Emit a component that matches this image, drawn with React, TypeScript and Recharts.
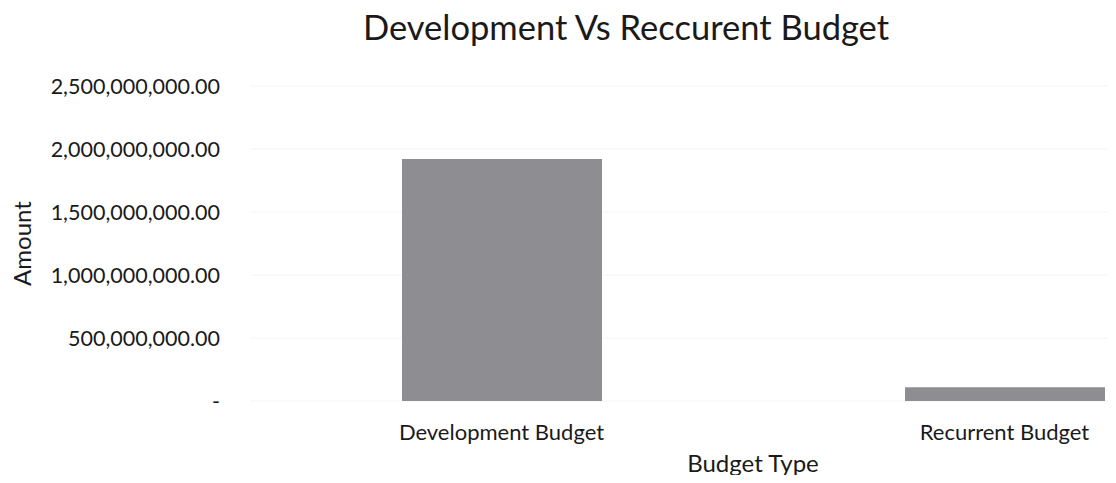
import { Bar, BarChart, CartesianGrid, Label, XAxis, YAxis } from "recharts";

const budgetTypes = ["Development Budget", "Recurrent Budget"];
const amounts = [1920000000, 110000000];
const yTicks = [0, 500000000, 1000000000, 1500000000, 2000000000, 2500000000];

const data = budgetTypes.map((name, i) => ({ name, amount: amounts[i] }));

const font = "Lato, 'Open Sans', sans-serif";

function formatAmount(v: number) {
  if (v === 0) return "-";
  return v.toLocaleString("en-US", {
    minimumFractionDigits: 2,
    maximumFractionDigits: 2,
  });
}

export default function App() {
  return (
    <div
      style={{
        position: "relative",
        width: 1116,
        height: 483,
        margin: -8,
        overflow: "hidden",
        background: "#fff",
        fontFamily: font,
      }}
    >
      <div
        style={{
          position: "absolute",
          left: 0,
          width: 1252,
          top: 10,
          lineHeight: "34px",
          textAlign: "center",
          fontSize: 34.5,
          color: "#1a1a1a",
          zIndex: 1,
        }}
      >
        Development Vs Reccurent Budget
      </div>
      <BarChart
        width={1280}
        height={483}
        data={data}
        margin={{ top: 86, right: 24, bottom: 0, left: 0 }}
      >
        <CartesianGrid vertical={false} stroke="#f4f4f4" />
        <XAxis
          dataKey="name"
          axisLine={false}
          tickLine={false}
          tickMargin={17}
          tick={{ fontSize: 22, fill: "#1a1a1a", fontFamily: font }}
          height={82}
        >
          <Label
            value="Budget Type"
            position="insideBottom"
            offset={11}
            style={{ fontSize: 24, fill: "#1a1a1a", fontFamily: font }}
          />
        </XAxis>
        <YAxis
          width={250}
          domain={[0, 2500000000]}
          ticks={yTicks}
          axisLine={false}
          tickLine={false}
          tickMargin={24}
          tickFormatter={formatAmount}
          tick={{ fontSize: 21.5, fill: "#1a1a1a", fontFamily: font }}
        >
          <Label
            content={({ viewBox }: any) => {
              const cy = viewBox.y + viewBox.height / 2;
              return (
                <text
                  x={21}
                  y={cy}
                  transform={`rotate(-90, 21, ${cy})`}
                  textAnchor="middle"
                  dominantBaseline="central"
                  style={{ fontSize: 24, fill: "#1a1a1a", fontFamily: font }}
                >
                  Amount
                </text>
              );
            }}
          />
        </YAxis>
        <Bar dataKey="amount" fill="#8d8d92" barSize={200} isAnimationActive={false} />
      </BarChart>
    </div>
  );
}
